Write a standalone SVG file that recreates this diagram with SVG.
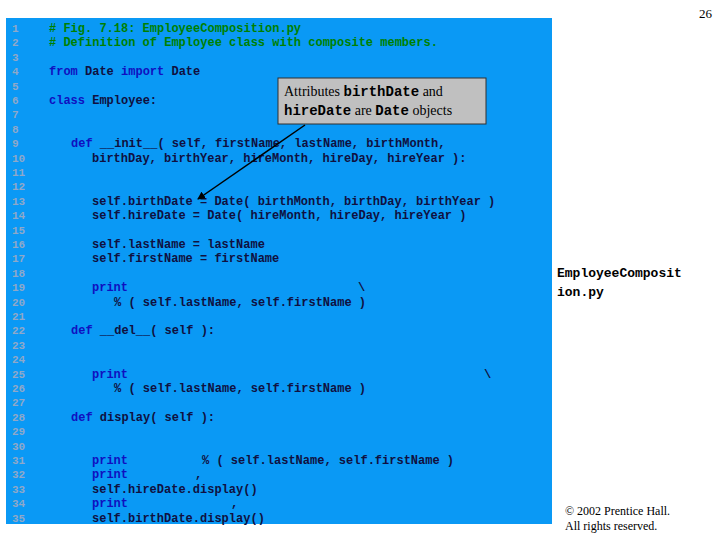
<svg xmlns="http://www.w3.org/2000/svg" width="720" height="540" viewBox="0 0 720 540">
<style>
.c{font-family:"Liberation Mono",monospace;font-size:12px;font-weight:bold;fill:#101040;white-space:pre}
.n{font-family:"Liberation Mono",monospace;font-size:11px;font-weight:bold;fill:#8FA8C8}
.k{fill:#1010C0}
.g{fill:#008000}
.s{font-family:"Liberation Serif",serif;fill:#000}
</style>
<defs><marker id="ah" markerWidth="8" markerHeight="8" refX="7" refY="4" orient="auto" markerUnits="userSpaceOnUse"><path d="M0,0 L8,4 L0,8 Z" fill="#000"/></marker></defs>
<rect x="0" y="0" width="720" height="540" fill="#fff"/>
<rect x="6" y="18" width="546" height="506" fill="#0A99F5"/>
<g id="linenums" class="n">
<text x="12" y="32">1</text><text x="12" y="46">2</text><text x="12" y="61">3</text><text x="12" y="75">4</text><text x="12" y="90">5</text><text x="12" y="104">6</text><text x="12" y="118">7</text><text x="12" y="133">8</text><text x="12" y="147">9</text><text x="12" y="162">10</text><text x="12" y="176">11</text><text x="12" y="190">12</text><text x="12" y="205">13</text><text x="12" y="219">14</text><text x="12" y="234">15</text><text x="12" y="248">16</text><text x="12" y="262">17</text><text x="12" y="277">18</text><text x="12" y="291">19</text><text x="12" y="306">20</text><text x="12" y="320">21</text><text x="12" y="334">22</text><text x="12" y="349">23</text><text x="12" y="363">24</text><text x="12" y="378">25</text><text x="12" y="392">26</text><text x="12" y="406">27</text><text x="12" y="421">28</text><text x="12" y="435">29</text><text x="12" y="450">30</text><text x="12" y="464">31</text><text x="12" y="478">32</text><text x="12" y="493">33</text><text x="12" y="507">34</text><text x="12" y="522">35</text>
</g>
<g id="code" class="c">
<text x="49" y="32" class="c g"># Fig. 7.18: EmployeeComposition.py</text>
<text x="49" y="46" class="c g"># Definition of Employee class with composite members.</text>
<text x="49" y="75"><tspan class="k">from</tspan> Date <tspan class="k">import</tspan> Date</text>
<text x="49" y="104"><tspan class="k">class</tspan> Employee:</text>
<text x="71" y="147"><tspan class="k">def</tspan> __init__( self, firstName, lastName, birthMonth,</text>
<text x="92" y="162">birthDay, birthYear, hireMonth, hireDay, hireYear ):</text>
<text x="92" y="205">self.birthDate = Date( birthMonth, birthDay, birthYear )</text>
<text x="92" y="219">self.hireDate = Date( hireMonth, hireDay, hireYear )</text>
<text x="92" y="248">self.lastName = lastName</text>
<text x="92" y="262">self.firstName = firstName</text>
<text x="92" y="291" class="c k">print</text><text x="358" y="291">\</text>
<text x="114" y="306">% ( self.lastName, self.firstName )</text>
<text x="71" y="334"><tspan class="k">def</tspan> __del__( self ):</text>
<text x="92" y="378" class="c k">print</text><text x="484" y="378">\</text>
<text x="114" y="392">% ( self.lastName, self.firstName )</text>
<text x="71" y="421"><tspan class="k">def</tspan> display( self ):</text>
<text x="92" y="464" class="c k">print</text><text x="202" y="464">% ( self.lastName, self.firstName )</text>
<text x="92" y="478" class="c k">print</text><text x="195" y="478">,</text>
<text x="92" y="493">self.hireDate.display()</text>
<text x="92" y="507" class="c k">print</text><text x="231" y="507">,</text>
<text x="92" y="522">self.birthDate.display()</text>
</g>
<g id="callout">
<rect x="278" y="78" width="208" height="46" fill="#C0C0C0" stroke="#303030" stroke-width="1"/>
<text x="284" y="96" class="s" font-size="14">Attributes <tspan font-family="Liberation Mono,monospace" font-weight="bold">birthDate</tspan> and</text>
<text x="284" y="115" class="s" font-size="14"><tspan font-family="Liberation Mono,monospace" font-weight="bold">hireDate</tspan> are <tspan font-family="Liberation Mono,monospace" font-weight="bold">Date</tspan> objects</text>
</g>
<g id="connectors">
<line x1="305" y1="125" x2="198" y2="199" stroke="#000" stroke-width="1.5" marker-end="url(#ah)"/>
</g>
<g id="side">
<text x="699" y="18" class="s" font-size="13">26</text>
<text x="557" y="277" font-family="Liberation Mono,monospace" font-size="13" font-weight="bold">EmployeeComposit</text>
<text x="557" y="296" font-family="Liberation Mono,monospace" font-size="13" font-weight="bold">ion.py</text>
<text x="565" y="515" class="s" font-size="12">© 2002 Prentice Hall.</text>
<text x="565" y="530" class="s" font-size="12">All rights reserved.</text>
</g>
</svg>
